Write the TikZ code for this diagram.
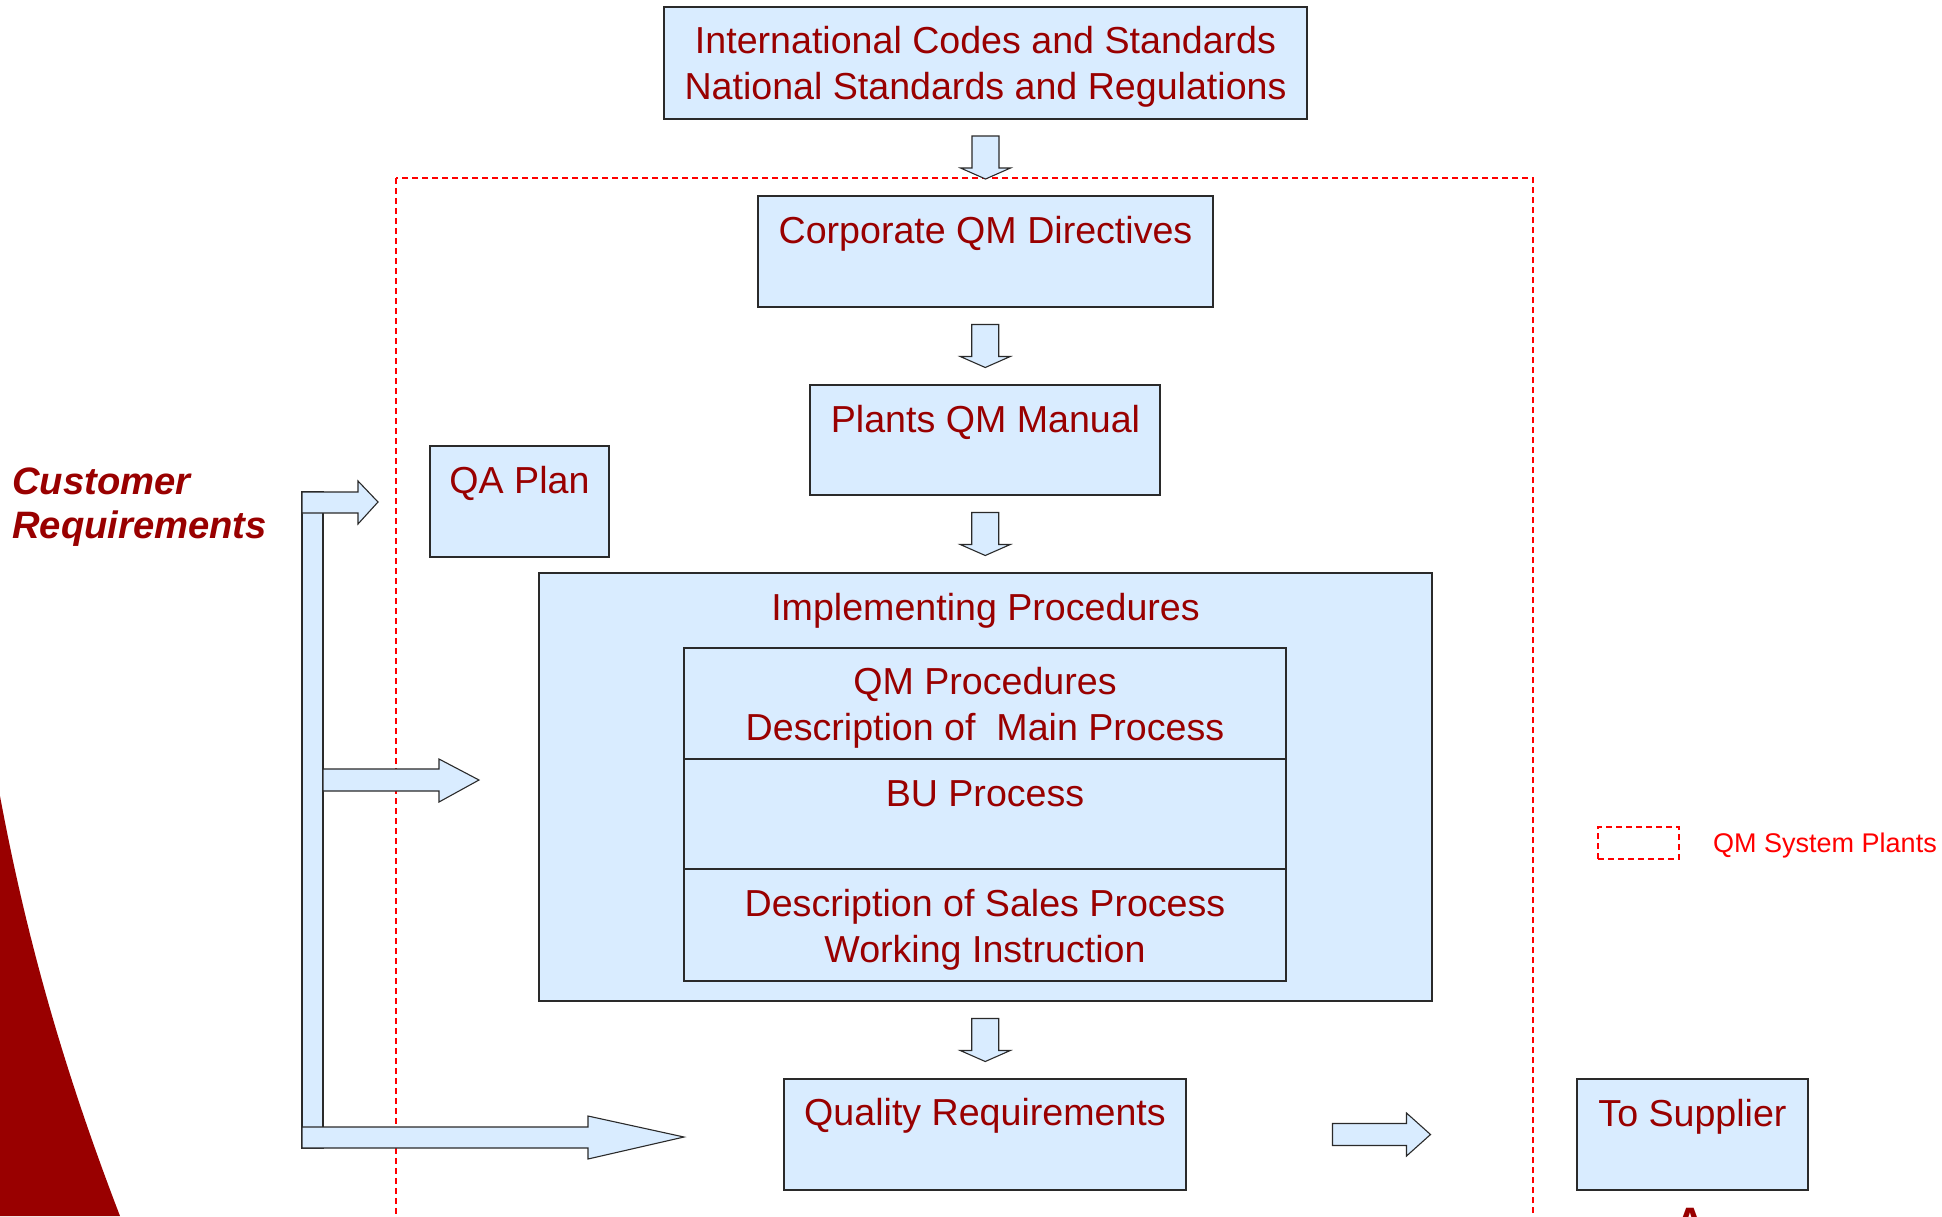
\documentclass[tikz,border=0pt]{standalone}
\usepackage{fontspec}
\setmainfont{Liberation Sans}
\usetikzlibrary{calc}
\definecolor{boxfill}{HTML}{D9ECFF}
\definecolor{txtred}{HTML}{990000}
\definecolor{edgecol}{HTML}{2A2A2A}
\definecolor{legred}{HTML}{FF0000}
\begin{document}
\begin{tikzpicture}[x=1pt,y=-1pt,
  box/.style={draw=edgecol, line width=1.3pt, fill=boxfill, inner sep=0pt, outer sep=0pt, anchor=north west},
  lbl/.style={text=txtred, font=\fontsize{37.6}{44}\selectfont, anchor=base, inner sep=0pt},
  custlbl/.style={text=txtred, font=\fontsize{38.2}{44}\selectfont\bfseries\itshape, anchor=base west, inner sep=0pt},
  blockarrow/.style={draw=edgecol, line width=1.1pt, fill=boxfill, line join=miter},
  qmframe/.style={draw=legred, line width=1.4pt, dash pattern=on 6pt off 4pt}]

\useasboundingbox (0,0) rectangle (1942,1216);

% red swoosh
\fill[txtred] (0,796) .. controls (25,930) and (60,1060) .. (120,1216) -- (0,1216) -- cycle;

% QM system frame
\draw[qmframe] (396,178) rectangle (1533,1262);

% boxes
\node[box, minimum width=643pt, minimum height=112pt] (intl) at (664,7) {};
\node[box, minimum width=455pt, minimum height=111pt] (corp) at (758,196) {};
\node[box, minimum width=350pt, minimum height=110pt] (plants) at (810,385) {};
\node[box, minimum width=179pt, minimum height=111pt] (qa) at (430,446) {};
\node[box, minimum width=893pt, minimum height=428pt] (impl) at (539,573) {};
\node[box, minimum width=602pt, minimum height=111pt] (qmp) at (684,648) {};
\node[box, minimum width=602pt, minimum height=110pt] (bu) at (684,759) {};
\node[box, minimum width=602pt, minimum height=112pt] (sales) at (684,869) {};
\node[box, minimum width=402pt, minimum height=111pt] (qr) at (784,1079) {};
\node[box, minimum width=231pt, minimum height=111pt] (sup) at (1577,1079) {};

% texts
\node[lbl] (intlA) at (985.5,53) {International Codes and Standards};
\node[lbl] (intlB) at (985.5,99) {National Standards and Regulations};
\node[lbl] (corpT) at (985.5,243) {Corporate QM Directives};
\node[lbl] (plantsT) at (985.5,432) {Plants QM Manual};
\node[lbl] (qaT) at (519.5,493) {QA Plan};
\node[lbl] (implT) at (985.5,620) {Implementing Procedures};
\node[lbl] (qmpA) at (985,694) {QM Procedures};
\node[lbl] (qmpB) at (985,740) {Description of\ \ Main Process};
\node[lbl] (buT) at (985,806) {BU Process};
\node[lbl] (salesA) at (985,916) {Description of Sales Process};
\node[lbl] (salesB) at (985,962) {Working Instruction};
\node[lbl] (qrT) at (985,1125) {Quality Requirements};
\node[lbl] (supT) at (1692.5,1126) {To Supplier};

\node[custlbl] (custA) at (12,494) {Customer};
\node[custlbl] (custB) at (12,538) {Requirements};

% down block arrows
\coordinate (a1) at ($(intl.south)!0.5!(corp.north)$);
\coordinate (a2) at ($(corp.south)!0.5!(plants.north)$);
\coordinate (a3) at ($(plants.south)!0.5!(impl.north)$);
\coordinate (a4) at ($(impl.south)!0.5!(qr.north)$);
\foreach \c in {a1,a2,a3,a4}{
  \draw[blockarrow] (\c) ++(-13.5,-21.5) -- ++(27,0) -- ++(0,32) -- ++(11.5,0)
     -- ++(-25,11) -- ++(-25,-11) -- ++(11.5,0) -- cycle;
}

% right block arrow to supplier
\coordinate (a5) at ($(qr.east)!0.5!(sup.west)$);
\draw[blockarrow] (a5) ++(-49,-11) -- ++(74,0) -- ++(0,-10.5) -- ++(24,21.5)
   -- ++(-24,21.5) -- ++(0,-10.5) -- ++(-74,0) -- cycle;

% customer requirement bracket arrows
\draw[blockarrow] (302,492) rectangle (323,1148);
\draw[blockarrow] (302,492) -- (358,492) -- (358,481) -- (378,502) -- (358,524)
   -- (358,513) -- (302,513) -- cycle;
\draw[blockarrow] (323,769) -- (439,769) -- (439,759) -- (479,780) -- (439,802)
   -- (439,791) -- (323,791) -- cycle;
\draw[blockarrow] (302,1127) -- (588,1127) -- (588,1116) -- (684,1137) -- (588,1159)
   -- (588,1148) -- (302,1148) -- cycle;

% legend
\node[qmframe, inner sep=0pt, outer sep=0pt, anchor=north west, minimum width=81pt, minimum height=32pt] (leg) at (1598,827) {};
\node[text=legred, font=\fontsize{27}{32}\selectfont, anchor=base west, inner sep=0pt] (legT) at (1713,852) {QM System Plants};

% partially visible letter at the bottom edge (cut off in the reference too)
\node[text=txtred, font=\fontsize{44}{50}\selectfont\bfseries, anchor=north, inner sep=0pt] (partA) at (1690,1208) {A};
\end{tikzpicture}
\end{document}
